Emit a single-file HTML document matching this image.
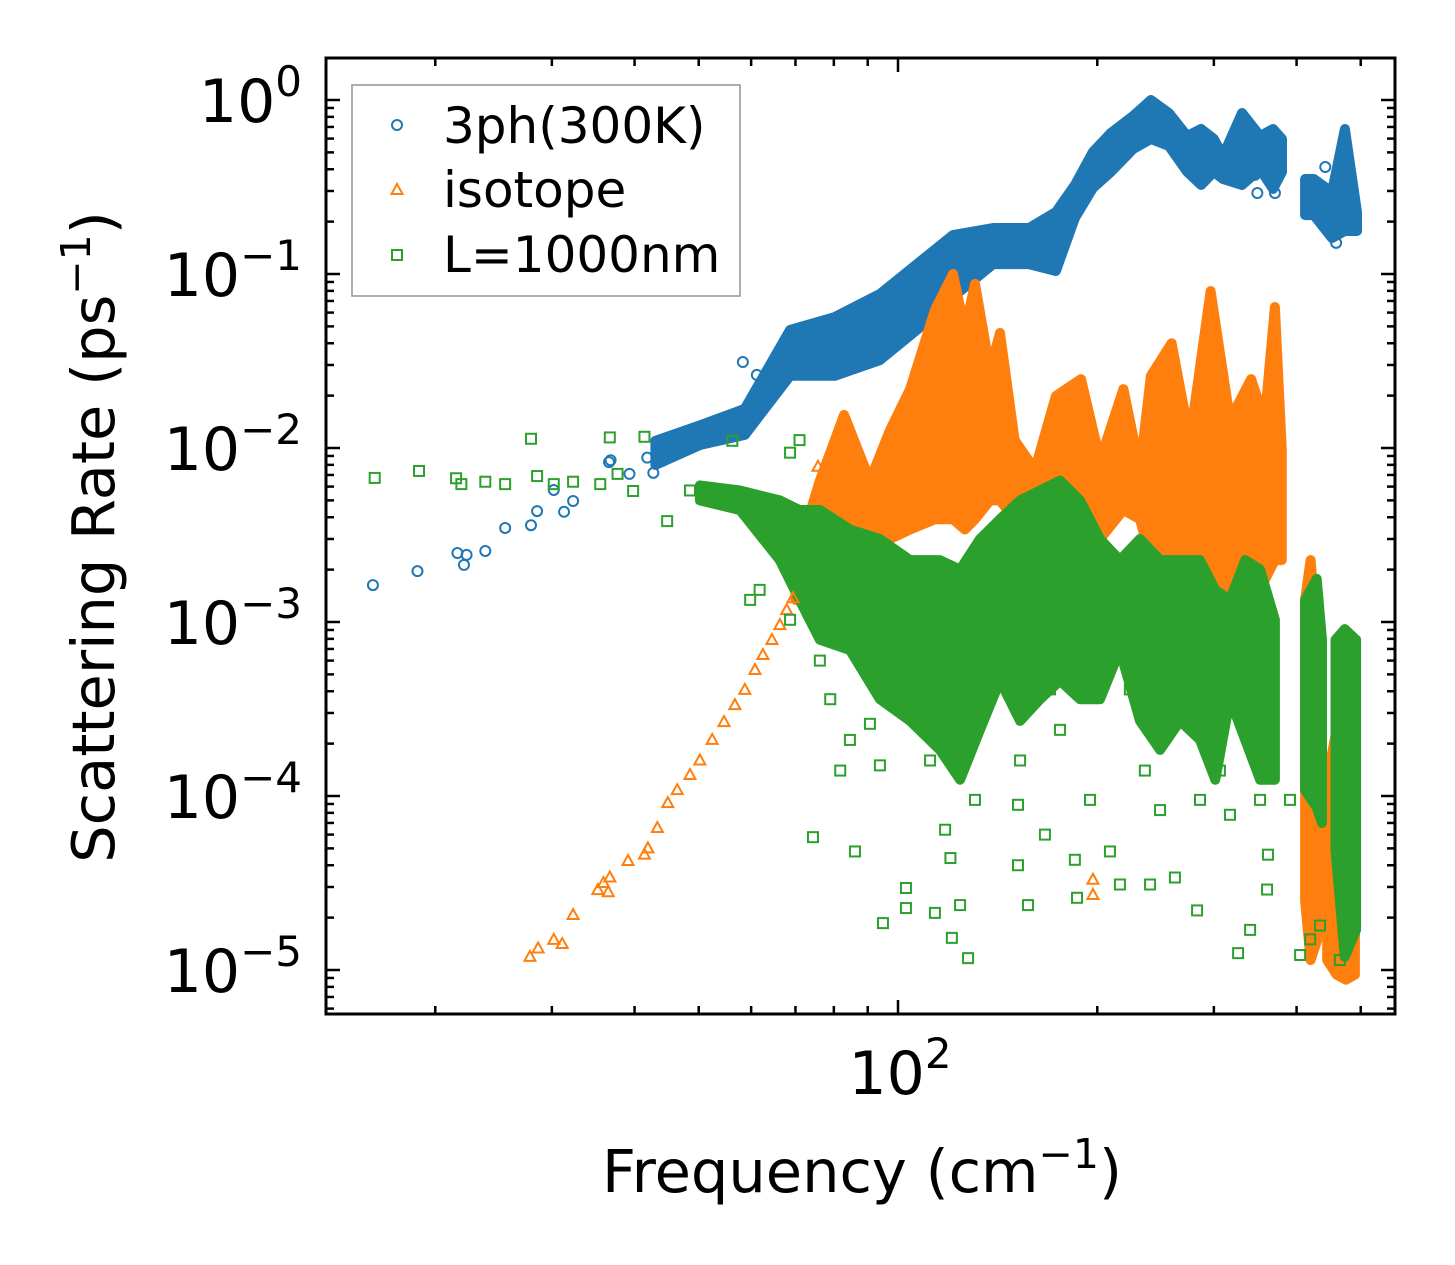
<!DOCTYPE html>
<html><head><meta charset="utf-8"><style>
html,body{margin:0;padding:0;background:#fff;}
svg{display:block;font-family:"DejaVu Sans","Liberation Sans",sans-serif;}
</style></head><body>
<svg id="chart" width="1455" height="1265" viewBox="0 0 1455 1265" xmlns="http://www.w3.org/2000/svg">
<rect x="0" y="0" width="1455" height="1265" fill="#fff"/>
<g id="bands"></g>
<g id="points"></g>
<g id="axes"></g>
<g id="legend">
<rect x="352" y="85" width="388" height="211" fill="#fff" fill-opacity="0.8" stroke="#999" stroke-width="1.6"/>
<circle cx="397" cy="125" r="5" fill="none" stroke="#1f77b4" stroke-width="2"/>
<text x="443" y="143" font-size="50">3ph(300K)</text>
<polygon points="397,184 402.5,194 391.5,194" fill="none" stroke="#ff7f0e" stroke-width="2"/>
<text x="443" y="207" font-size="50">isotope</text>
<rect x="392" y="250" width="10" height="10" fill="none" stroke="#2ca02c" stroke-width="2"/>
<text x="443" y="272" font-size="50">L=1000nm</text>
</g>
<text x="862" y="1192" font-size="59" text-anchor="middle">Frequency (cm<tspan dy="-24" font-size="41">−1</tspan><tspan dy="24">)</tspan></text>
<text transform="translate(114,537) rotate(-90)" font-size="59" text-anchor="middle">Scattering Rate (ps<tspan dy="-24" font-size="41">−1</tspan><tspan dy="24">)</tspan></text>
</svg>
<script>
// ---- data ----
const bluePtFreq = [16.1,18.8,21.6,22.1,22.3,23.8,25.5,27.9,28.5,30.2,31.3,32.3,36.6,36.8,39.3,42.7,41.8,61.2,58.3,346,349,371,442,459];
const bluePtRate = [1.63e-3,1.96e-3,2.49e-3,2.13e-3,2.43e-3,2.56e-3,3.47e-3,3.6e-3,4.34e-3,5.74e-3,4.3e-3,4.96e-3,8.3e-3,8.5e-3,7.1e-3,7.2e-3,8.8e-3,0.0263,0.0312,0.371,0.292,0.292,0.412,0.151];
const blueBandFreq = [43,50.2,58.7,68.7,80.3,93.9,106.8,121.1,139.2,157.7,173.2,185,197,209.7,226.5,241,256.6,273.4,287,300,309.7,330.9,352.3,368.6,380.2];
const blueBandLo = [8e-3,0.0104,0.0119,0.026,0.026,0.032,0.0477,0.0738,0.114,0.114,0.104,0.21,0.312,0.386,0.523,0.597,0.544,0.386,0.3247,0.386,0.3516,0.3247,0.401,0.308,0.386];
const blueBandHi = [0.011,0.0135,0.0168,0.0477,0.0566,0.0767,0.114,0.1676,0.1838,0.1838,0.227,0.3247,0.5026,0.646,0.809,1.0,0.842,0.621,0.681,0.597,0.477,0.842,0.621,0.681,0.597];
const blueBand2Freq = [412,424.9,452.5,473.2,493.6];
const blueBand2Lo = [0.218,0.218,0.161,0.1767,0.1767];
const blueBand2Hi = [0.3516,0.3516,0.296,0.681,0.227];

const orangePtFreq = [27.8,28.6,30.2,31.1,32.3,35.2,35.9,36.7,36.5,39.1,41.4,41.9,43.3,44.9,46.4,48.5,50.2,52.4,54.6,56.7,58.7,60.8,62.5,64.5,66.3,67.9,69.4,75.7,112.9,197,197];
const orangePtRate = [1.19e-5,1.33e-5,1.49e-5,1.41e-5,2.07e-5,2.88e-5,3.16e-5,3.4e-5,2.8e-5,4.23e-5,4.6e-5,5e-5,6.55e-5,9.1e-5,1.08e-4,1.32e-4,1.6e-4,2.1e-4,2.66e-4,3.33e-4,4.07e-4,5.3e-4,6.46e-4,7.88e-4,9.6e-4,1.17e-3,1.37e-3,7.8e-3,8e-3,3.3e-5,2.7e-5];
const orangeBandFreq = [70,76.2,82.9,90.7,97.3,104.3,113.7,121.1,126.2,130.7,137.7,142.6,150,161,173.2,189,202,219,232,241,259,276,296.6,317.3,341.5,358,371,380];
const orangeBandLo = [1.34e-3,1.74e-3,2.27e-3,2.27e-3,3e-3,3.4e-3,3.9e-3,3.9e-3,3.4e-3,3.9e-3,5e-3,5e-3,3.9e-3,2.27e-3,2.27e-3,2.27e-3,3e-3,4.4e-3,3.9e-3,2.27e-3,1.34e-3,1.34e-3,1.34e-3,1.34e-3,1.34e-3,1.74e-3,2.27e-3,2.27e-3];
const orangeBandHi = [2.27e-3,6.5e-3,0.0155,6.5e-3,0.0127,0.0218,0.062,0.1,0.0477,0.0877,0.028,0.0458,0.0111,7.5e-3,0.0199,0.0249,8.5e-3,0.0218,7.5e-3,0.026,0.04,0.0111,0.0798,0.0145,0.0249,0.0145,0.0646,9.7e-3];
const orangeBand2Freq = [412,420,430];
const orangeBand2Lo = [2.5e-5,1.14e-5,1.5e-5];
const orangeBand2Hi = [1.34e-3,2.27e-3,7.9e-4];
const orangeBand3Freq = [445,460,475,490];
const orangeBand3Lo = [1.14e-5,9.4e-6,8.8e-6,9.4e-6];
const orangeBand3Hi = [1.24e-4,2.43e-4,1.6e-4,4.9e-5];

const greenPtFreq = [16.2,18.9,21.5,21.9,23.8,25.5,27.9,28.5,30.2,32.3,35.5,36.7,37.7,39.8,41.4,44.8,48.5,51.9,56.2,61.9,68.7,71,
 74.4,86.1,94.9,102.8,102.8,113.7,117.8,120,120.6,127.6,124.1,130.7,151.8,151.8,157.2,166.7,185,186.4,209,216.4,240.3,262,283,326.4,340.3,362.2,361,405,434,352.3,317.3,248.8,195,152.9,111.8,93.9,84.6,81.8,137.7,169.7,224,285.9,306.4,236,175.7,76.2,79,90.7,59.8,61.8,68.7,391,419.4,465];
const greenPtRate = [6.73e-3,7.38e-3,6.7e-3,6.2e-3,6.4e-3,6.2e-3,0.0113,6.9e-3,6.2e-3,6.4e-3,6.2e-3,0.0115,7.1e-3,5.66e-3,0.0116,3.8e-3,5.7e-3,5.3e-3,0.011,5e-3,9.4e-3,0.0111,
 5.8e-5,4.8e-5,1.86e-5,2.27e-5,2.96e-5,2.13e-5,6.4e-5,4.4e-5,1.53e-5,1.17e-5,2.36e-5,9.5e-5,8.9e-5,4e-5,2.36e-5,6e-5,4.3e-5,2.6e-5,4.8e-5,3.1e-5,3.1e-5,3.4e-5,2.2e-5,1.25e-5,1.7e-5,4.6e-5,2.9e-5,1.22e-5,1.8e-5,9.5e-5,7.8e-5,8.3e-5,9.5e-5,1.6e-4,1.6e-4,1.5e-4,2.1e-4,1.4e-4,4.1e-4,4.1e-4,4.1e-4,9.5e-5,1.4e-4,1.4e-4,2.4e-4,6e-4,3.6e-4,2.6e-4,1.34e-3,1.53e-3,1.03e-3,9.5e-5,1.5e-5,1.14e-5];
const greenBandFreq = [50.2,57.7,66.3,71,76.2,84.6,93.9,104.3,115.7,124.1,133,142.6,152.9,163.9,175.7,188.3,201.9,216.4,232,248.8,266.7,285.9,301.5,317.3,334.5,352.3,371];
const greenBandLo = [5e-3,4.4e-3,2.27e-3,1.34e-3,7.9e-4,6.9e-4,3.6e-4,2.7e-4,1.84e-4,1.24e-4,2.4e-4,4.6e-4,2.7e-4,3.6e-4,4.6e-4,3.6e-4,3.6e-4,6.9e-4,2.7e-4,1.84e-4,2.7e-4,2.1e-4,1.24e-4,3.6e-4,2.1e-4,1.24e-4,1.24e-4];
const greenBandHi = [6.1e-3,5.7e-3,5e-3,4.4e-3,4.4e-3,3.4e-3,3e-3,2.27e-3,2.27e-3,2e-3,3e-3,3.9e-3,5e-3,5.7e-3,6.5e-3,5e-3,3e-3,2.27e-3,3e-3,2.27e-3,2.27e-3,2.27e-3,1.53e-3,1.34e-3,2.27e-3,2e-3,1.03e-3];
const greenBand2Freq = [412,429,437];
const greenBand2Lo = [1.08e-4,8.6e-5,7e-5];
const greenBand2Hi = [1.34e-3,1.77e-3,7.9e-4];
const greenBand3Freq = [458,473,492];
const greenBand3Lo = [4.9e-5,1.19e-5,1.7e-5];
const greenBand3Hi = [7.9e-4,9.1e-4,7.9e-4];

const yMajorExps = [0,-1,-2,-3,-4,-5];
const yTickLabels = ["0","−1","−2","−3","−4","−5"];
const xMajorVals = [100];
const xTickLabels = ["2"];

const PL=326, PR=1395, PT=58, PB=1014;
const X0=898, XDEC=662, Y0=100, YDEC=174;
function xs(f){return X0+XDEC*Math.log10(f/100);}
function ys(r){return Y0-YDEC*Math.log10(r);}
const NS='http://www.w3.org/2000/svg';
function mk(tag,attrs,parent){const e=document.createElementNS(NS,tag);for(const k in attrs)e.setAttribute(k,attrs[k]);parent.appendChild(e);return e;}

const bands=document.getElementById('bands');
const pts=document.getElementById('points');
const axes=document.getElementById('axes');

function drawBand(fr,lo,hi,color,name){
  let p=[];
  for(let i=0;i<fr.length;i++)p.push(xs(fr[i]).toFixed(1)+','+ys(hi[i]).toFixed(1));
  for(let i=fr.length-1;i>=0;i--)p.push(xs(fr[i]).toFixed(1)+','+ys(lo[i]).toFixed(1));
  const e=mk('polygon',{points:p.join(' '),fill:color,stroke:color,'stroke-width':10,'stroke-linejoin':'round'},bands);
  
  
}
function drawPts(fr,rt,kind,color,name){
  for(let i=0;i<fr.length;i++){
    const x=xs(fr[i]), y=ys(rt[i]);
    if(x<PL||x>PR||y<PT||y>PB)continue;
    let e;
    if(kind==='c') e=mk('circle',{cx:x,cy:y,r:5,fill:'none',stroke:color,'stroke-width':2},pts);
    else if(kind==='t') e=mk('polygon',{points:`${x},${y-6} ${x+5.5},${y+4} ${x-5.5},${y+4}`,fill:'none',stroke:color,'stroke-width':2},pts);
    else e=mk('rect',{x:x-5,y:y-5,width:10,height:10,fill:'none',stroke:color,'stroke-width':2},pts);
    
    
  }
}
const B='#1f77b4', O='#ff7f0e', G='#2ca02c';
drawBand(blueBandFreq,blueBandLo,blueBandHi,B,'3ph-dense-band');
drawBand(blueBand2Freq,blueBand2Lo,blueBand2Hi,B,'3ph-high-freq-band');
drawPts(bluePtFreq,bluePtRate,'c',B,'3ph-point');
drawBand(orangeBandFreq,orangeBandLo,orangeBandHi,O,'isotope-dense-band');
drawBand(orangeBand2Freq,orangeBand2Lo,orangeBand2Hi,O,'isotope-high-freq-band');
drawBand(orangeBand3Freq,orangeBand3Lo,orangeBand3Hi,O,'isotope-high-freq-band');
drawPts(orangePtFreq,orangePtRate,'t',O,'isotope-point');
drawBand(greenBandFreq,greenBandLo,greenBandHi,G,'boundary-dense-band');
drawBand(greenBand2Freq,greenBand2Lo,greenBand2Hi,G,'boundary-high-freq-band');
drawBand(greenBand3Freq,greenBand3Lo,greenBand3Hi,G,'boundary-high-freq-band');
drawPts(greenPtFreq,greenPtRate,'s',G,'boundary-point');

const fr=mk('rect',{x:PL,y:PT,width:PR-PL,height:PB-PT,fill:'none',stroke:'#000','stroke-width':3},axes);


function tick(x1,y1,x2,y2,name){const e=mk('line',{x1,y1,x2,y2,stroke:'#000','stroke-width':2.5},axes);}
for(let d=1;d>=-6;d--){
  for(let m=1;m<10;m++){
    const r=m*Math.pow(10,d), y=ys(r);
    if(y<PT+1||y>PB-1)continue;
    const L=(m===1)?14:8;
    tick(PL,y,PL+L,y,'y-tick');
    tick(PR,y,PR-L,y,'y-tick-right');
  }
}
for(let d=1;d<=2;d++){
  for(let m=1;m<10;m++){
    const f=m*Math.pow(10,d), x=xs(f);
    if(x<PL+1||x>PR-1)continue;
    const L=(m===1)?14:8;
    tick(x,PB,x,PB-L,'x-tick');
    tick(x,PT,x,PT+L,'x-tick-top');
  }
}
for(let i=0;i<yMajorExps.length;i++){
  const y=ys(Math.pow(10,yMajorExps[i]));
  const t=mk('text',{x:302,y:y+22,'font-size':60,'text-anchor':'end'},axes);
  
  
  const a=mk('tspan',{},t); a.textContent='10';
  const b=mk('tspan',{dy:-26,'font-size':42},t); b.textContent=yTickLabels[i];
}
for(let i=0;i<xMajorVals.length;i++){
  const x=xs(xMajorVals[i]);
  const t=mk('text',{x:x+2,y:1094,'font-size':60,'text-anchor':'middle'},axes);
  
  
  const a=mk('tspan',{},t); a.textContent='10';
  const b=mk('tspan',{dy:-26,'font-size':42},t); b.textContent=xTickLabels[i];
}
</script>
</body></html>
